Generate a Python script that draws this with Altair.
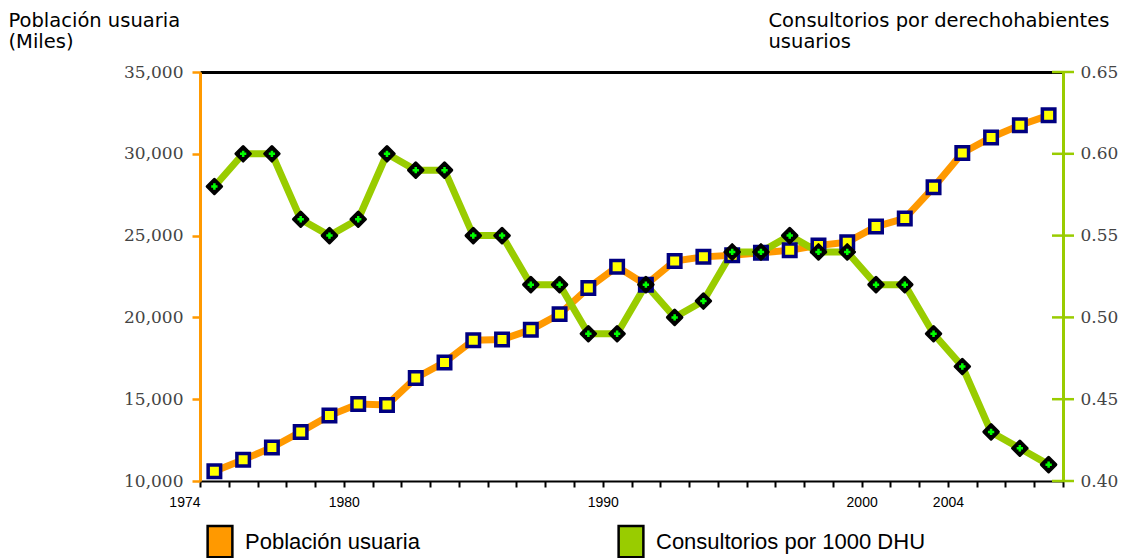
import altair as alt
import pandas as pd

# ---- data ----
tick_years = ["1974", "1980", "1990", "2000", "2004"]
tick_slots = [0, 5, 14, 23, 26]
n_slots = 30

poblacion = [10600, 11300, 12050, 13000, 14000, 14700, 14650, 16300, 17250, 18600,
             18650, 19250, 20200, 21800, 23100, 22000, 23450, 23700, 23800, 23950,
             24100, 24400, 24600, 25550, 26050, 27950, 30050, 31000, 31750, 32350]
consultorios = [0.58, 0.60, 0.60, 0.56, 0.55, 0.56, 0.60, 0.59, 0.59, 0.55,
                0.55, 0.52, 0.52, 0.49, 0.49, 0.52, 0.50, 0.51, 0.54, 0.54,
                0.55, 0.54, 0.54, 0.52, 0.52, 0.49, 0.47, 0.43, 0.42, 0.41]
serie_names = ["Población usuaria", "Consultorios por 1000 DHU"]
left_ticks = [10000, 15000, 20000, 25000, 30000, 35000]
right_ticks = [0.40, 0.45, 0.50, 0.55, 0.60, 0.65]
left_title = ["Población usuaria", "(Miles)"]
right_title = ["Consultorios por derechohabientes", "\u00a0usuarios"]

ORANGE = "#FF9900"
GREEN = "#99CC00"

df_p = pd.DataFrame({"pos": [i + 0.5 for i in range(len(poblacion))],
                     "valor": poblacion, "serie": serie_names[0]})
df_c = pd.DataFrame({"pos": [i + 0.5 for i in range(len(consultorios))],
                     "valor": consultorios, "serie": serie_names[1]})
df_rt = pd.DataFrame({"valor": right_ticks, "pos": [n_slots] * len(right_ticks)})

slots_js = "[" + ",".join(str(s) for s in tick_slots) + "]"
years_js = "[" + ",".join(f"'{y}'" for y in tick_years) + "]"
label_expr = f"indexof({slots_js}, datum.value) >= 0 ? {years_js}[indexof({slots_js}, datum.value)] : ''"

x_axis = alt.Axis(
    orient="bottom", values=list(range(n_slots + 1)), labelExpr=label_expr,
    labelOverlap=False, labelFlush=False, labelBound=False,
    labelAlign={"condition": {"test": "datum.value == 0", "value": "right"}, "value": "center"},
    labelFont="Liberation Sans", labelFontSize=14, labelColor="black",
    labelPadding=8, labelBaseline="top",
    domainColor="black", domainWidth=2, tickColor="black", tickWidth=2, tickSize=6,
    grid=False, title=None,
)
x_enc = alt.X("pos:Q", scale=alt.Scale(domain=[0, n_slots], nice=False, zero=False), axis=x_axis)

left_scale = alt.Scale(domain=[10000, 35000], nice=False, zero=False)
right_scale = alt.Scale(domain=[0.40, 0.65], nice=False, zero=False)

left_axis = alt.Axis(
    orient="left", values=left_ticks, format=",.0f",
    labelFont="DejaVu Serif", labelFontSize=17, labelColor="#444", labelPadding=9,
    labelFlush=False, labelOverlap=False,
    domainColor=ORANGE, domainWidth=3, tickColor=ORANGE, tickWidth=2.5, tickSize=8,
    grid=True, gridColor="black", gridWidth=3,
    gridOpacity={"condition": {"test": "datum.value == 35000", "value": 1}, "value": 0},
    title=left_title, titleAngle=0, titleAlign="left", titleBaseline="alphabetic",
    titleX=-192, titleY=-45.5, titleFont="DejaVu Sans", titleFontSize=19.5,
    titleFontWeight="normal", titleColor="black", titleLineHeight=21,
)
right_axis = alt.Axis(
    orient="right", values=right_ticks, format=".2f",
    labelFont="DejaVu Serif", labelFontSize=17, labelColor="#444", labelPadding=17,
    labelFlush=False, labelOverlap=False,
    domainColor=GREEN, domainWidth=3, ticks=False, tickSize=0, grid=False,
    title=right_title, titleAngle=0, titleAlign="left", titleBaseline="alphabetic",
    titleX=-295, titleY=-45.5, titleFont="DejaVu Sans", titleFontSize=19.5,
    titleFontWeight="normal", titleColor="black", titleLineHeight=21,
)

color_enc = alt.Color(
    "serie:N",
    scale=alt.Scale(domain=serie_names, range=[ORANGE, GREEN]),
    legend=alt.Legend(
        title=None, orient="none", legendX=2, legendY=451.5, direction="horizontal",
        columns=2, columnPadding=193, padding=0,
        symbolType="M-0.75,-0.95H0.75V0.95H-0.75Z", symbolSize=1089,
        symbolStrokeColor="black", symbolStrokeWidth=2.5, symbolOpacity=1,
        labelFont="Liberation Sans", labelFontSize=22, labelColor="black",
        labelOffset=7, labelLimit=400,
    ),
)

# hidden carriers of the colour legend (covered by the markers)
carrier_p = alt.Chart(df_p).mark_square(size=40, filled=True).encode(
    x=x_enc, y=alt.Y("valor:Q", scale=left_scale, axis=left_axis), color=color_enc)
carrier_c = alt.Chart(df_c).mark_square(size=40, filled=True).encode(
    x=x_enc, y=alt.Y("valor:Q", scale=right_scale, axis=right_axis), color=color_enc)

line_p = alt.Chart(df_p).mark_line(strokeWidth=7, color=ORANGE).encode(
    x=x_enc, y=alt.Y("valor:Q", scale=left_scale, axis=None))
line_c = alt.Chart(df_c).mark_line(strokeWidth=7, color=GREEN).encode(
    x=x_enc, y=alt.Y("valor:Q", scale=right_scale, axis=None))
squares = alt.Chart(df_p).mark_square(
    size=156, filled=True, fill="#FFFF00", stroke="#000080", strokeWidth=3.5, opacity=1
).encode(x=x_enc, y=alt.Y("valor:Q", scale=left_scale, axis=None))
diamonds = alt.Chart(df_c).mark_point(
    shape="diamond", size=210, filled=True, fill="black", stroke="black", strokeWidth=3,
    strokeJoin="round", opacity=1
).encode(x=x_enc, y=alt.Y("valor:Q", scale=right_scale, axis=None))
inner = alt.Chart(df_c).mark_point(
    shape="cross", size=40, filled=True, fill="#00FF00", strokeWidth=0, opacity=1
).encode(x=x_enc, y=alt.Y("valor:Q", scale=right_scale, axis=None))
rticks = alt.Chart(df_rt).mark_tick(
    orient="horizontal", size=22, thickness=2.5, color=GREEN, opacity=1
).encode(x=x_enc, y=alt.Y("valor:Q", scale=right_scale, axis=None))

chart = alt.layer(carrier_p, carrier_c, line_p, line_c, squares, diamonds, inner, rticks).resolve_scale(
    y="independent"
).properties(
    width=863, height=409,
    padding={"left": 192, "top": 64, "right": 61, "bottom": 80},
    autosize=alt.AutoSizeParams(type="none"),
).configure_view(stroke=None)

chart.save("out.html", embed_options={"renderer": "svg", "actions": False})
